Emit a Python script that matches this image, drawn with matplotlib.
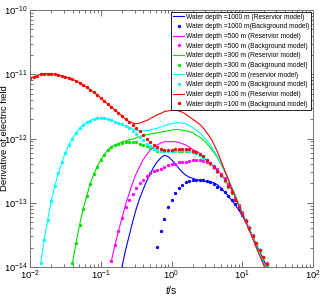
import numpy as np
import matplotlib
matplotlib.use("Agg")
import matplotlib.pyplot as plt

plt.rcParams["font.family"] = ["Liberation Sans", "DejaVu Sans"]
plt.rcParams["mathtext.fontset"] = "custom"
plt.rcParams["mathtext.rm"] = "Liberation Sans"
plt.rcParams["mathtext.it"] = "Liberation Sans:italic"

# time samples (log10 t, s), 20 per decade
log_t = np.round(np.arange(69) * 0.05 - 2.0, 2)

# log10 of derivative; each list starts at log_t index given
b100_start = 0
b100 = [-11.06, -11.04, -11.02, -11.00, -10.99, -10.99, -10.99, -11.00, -11.01, -11.03,
        -11.04, -11.06, -11.08, -11.10, -11.13, -11.17, -11.20, -11.24, -11.28, -11.32,
        -11.37, -11.42, -11.46, -11.51, -11.56, -11.60, -11.65, -11.70, -11.74, -11.79,
        -11.84, -11.88, -11.95, -12.01, -12.06, -12.10, -12.14, -12.16, -12.18, -12.18,
        -12.18, -12.17, -12.16, -12.16, -12.16, -12.17, -12.19, -12.21, -12.24, -12.28,
        -12.33, -12.38, -12.44, -12.50, -12.57, -12.65, -12.74, -12.84, -12.95, -13.06,
        -13.17, -13.28, -13.40, -13.51, -13.63, -13.74, -13.85, -13.96, -14.06]
r100 = b100[:29] + [
        -11.76, -11.77, -11.76, -11.74, -11.72, -11.69, -11.66, -11.63, -11.61, -11.58, -11.57,
        -11.56, -11.56, -11.57, -11.59, -11.62, -11.66, -11.70, -11.74, -11.78, -11.84,
        -11.91, -11.99, -12.09, -12.21, -12.35, -12.49, -12.63, -12.77, -12.90, -13.04,
        -13.17, -13.30, -13.43, -13.56, -13.70, -13.83, -13.96, -14.09]

b200_start = 3
b200 = [-13.94, -13.58, -13.27, -12.97, -12.74, -12.54, -12.37,
        -12.22, -12.10, -12.00, -11.91, -11.84, -11.79, -11.75, -11.72, -11.70, -11.68,
        -11.68, -11.68, -11.70, -11.71, -11.74, -11.76, -11.78, -11.81, -11.84, -11.88,
        -11.93, -11.98, -12.03, -12.09, -12.12, -12.16, -12.18, -12.19, -12.20, -12.20,
        -12.19, -12.19, -12.18, -12.18, -12.18, -12.19, -12.20, -12.23, -12.26, -12.30,
        -12.34, -12.40, -12.46, -12.52, -12.58, -12.65, -12.74, -12.84, -12.95, -13.06,
        -13.17, -13.28, -13.40, -13.51, -13.63, -13.74, -13.85, -13.96, -14.06]
r200 = b200[:25] + [
        -11.82, -11.85, -11.87, -11.88, -11.88, -11.88, -11.87, -11.85, -11.84, -11.82, -11.80, -11.78,
        -11.77, -11.76, -11.75, -11.76, -11.77, -11.80, -11.83, -11.87, -11.91, -11.97,
        -12.03, -12.10, -12.19, -12.28, -12.38, -12.50, -12.62, -12.75, -12.88, -13.02,
        -13.15, -13.28, -13.41, -13.54, -13.68, -13.81, -13.94, -14.07]

b300_start = 12
b300 = [-13.94, -13.63, -13.35, -13.10, -12.90, -12.71, -12.56, -12.44,
        -12.33, -12.25, -12.18, -12.13, -12.10, -12.09, -12.07, -12.06, -12.05, -12.05,
        -12.06, -12.08, -12.10, -12.12, -12.15, -12.17, -12.19, -12.19, -12.20, -12.20,
        -12.20, -12.19, -12.19, -12.19, -12.19, -12.20, -12.21, -12.23, -12.26, -12.30,
        -12.34, -12.40, -12.46, -12.52, -12.59, -12.66, -12.75, -12.85, -12.96, -13.07,
        -13.18, -13.29, -13.41, -13.52, -13.64, -13.75, -13.86, -13.97, -14.07]
r300 = b300[:13] + [
        -12.08, -12.05, -12.04, -12.02, -12.01,
        -11.99, -11.97, -11.95, -11.94, -11.93, -11.92, -11.91, -11.90, -11.89, -11.88,
        -11.87, -11.86, -11.86, -11.87, -11.88, -11.89, -11.91, -11.95, -11.98, -12.02,
        -12.08, -12.14, -12.22, -12.30, -12.40, -12.51, -12.63, -12.76, -12.89, -13.02,
        -13.15, -13.28, -13.41, -13.54, -13.67, -13.80, -13.93, -14.06]

b500_start = 23
b500 = [-13.91, -13.66, -13.44, -13.24, -13.07, -12.95, -12.86,
        -12.77, -12.70, -12.64, -12.58, -12.54, -12.51, -12.49, -12.47, -12.44, -12.42,
        -12.40, -12.39, -12.37, -12.37, -12.36, -12.35, -12.34, -12.34, -12.34, -12.35,
        -12.37, -12.39, -12.43, -12.48, -12.55, -12.62, -12.71, -12.82, -12.93, -13.04,
        -13.15, -13.27, -13.38, -13.50, -13.62, -13.73, -13.84, -13.94, -14.04]
r500 = b500[:4] + [
        -13.03, -12.86, -12.69,
        -12.55, -12.44, -12.33, -12.25, -12.18, -12.13, -12.10, -12.07, -12.05, -12.05,
        -12.05, -12.05, -12.06, -12.08, -12.10, -12.13, -12.17, -12.20, -12.23, -12.29,
        -12.34, -12.39, -12.44, -12.49, -12.55, -12.63, -12.72, -12.80, -12.91, -13.04,
        -13.16, -13.29, -13.42, -13.55, -13.69, -13.82, -13.95, -14.08]

b1000_start = 36
b1000 = [-13.69, -13.44, -13.25, -13.07,
         -12.95, -12.85, -12.77, -12.72, -12.68, -12.66, -12.65, -12.64, -12.64, -12.65,
         -12.66, -12.68, -12.71, -12.75, -12.79, -12.84, -12.89, -12.95, -13.02, -13.10,
         -13.19, -13.29, -13.40, -13.51, -13.63, -13.74, -13.85, -13.95, -14.04]
r1000_start = 26
r1000 = [-14.00, -13.74, -13.52, -13.30,
         -13.10, -12.93, -12.79, -12.66, -12.55, -12.44, -12.36, -12.30, -12.26, -12.28,
         -12.33, -12.39, -12.46, -12.52, -12.57, -12.60, -12.62, -12.64, -12.65, -12.66,
         -12.67, -12.68, -12.69, -12.72, -12.77, -12.83, -12.89, -12.96, -13.03, -13.11,
         -13.20, -13.30, -13.41, -13.53, -13.65, -13.77, -13.89, -14.00, -14.11]

colors = ["#0000ff", "#ff00ff", "#00e000", "#00ffff", "#ff0000"]
res_labels = ["Water depth =1000 m (Reservior model)", "Water depth =500 m (Reservior model)",
              "Water depth =300 m (Reservior model)", "Water depth =200 m (reservior model)",
              "Water depth =100 m (Reservior model)"]
bg_labels = ["Water depth =1000 m(Background model)", "Water depth =500 m (Background model)",
             "Water depth =300 m (Background model)", "Water depth =200 m (Background model)",
             "Water depth =100 m (Background model)"]
res = [(r1000_start, r1000), (b500_start, r500), (b300_start, r300), (b200_start, r200), (b100_start, r100)]
bg = [(b1000_start, b1000), (b500_start, b500), (b300_start, b300), (b200_start, b200), (b100_start, b100)]


def xy(start, vals):
    t = 10 ** log_t[start:start + len(vals)]
    return t, 10 ** np.array(vals)


fig = plt.figure(figsize=(3.21, 2.97), dpi=100)
ax = fig.add_axes([30 / 321, 1 - 267 / 297, 283 / 321, 257 / 297])

for i in range(5):
    ax.plot(*xy(*res[i]), "-", color=colors[i], lw=0.8, label=res_labels[i])
    ax.plot(*xy(*bg[i]), "o", color=colors[i], ms=2.4, mew=0, ls="none", label=bg_labels[i])

ax.set_xscale("log")
ax.set_yscale("log")
ax.set_xlim(1e-2, 1e2)
ax.set_ylim(1e-14, 1e-10)
ax.set_xlabel("$t$/s", fontsize=7.5, va="center")
ax.set_ylabel("Derivative of electric field", fontsize=6.8, va="center")
ax.xaxis.set_label_coords(0.5, -23 / 257)
ax.yaxis.set_label_coords(-25.5 / 283, 0.5)
ax.tick_params(which="both", direction="in", top=True, right=True, colors="0.35",
               labelcolor="black", labelsize=6.8, width=0.6, pad=1.5)
ax.tick_params(which="major", length=4)
ax.tick_params(which="minor", length=2)
for s in ax.spines.values():
    s.set_color("0.45")
    s.set_linewidth(0.7)

leg = ax.legend(loc="upper right", bbox_to_anchor=(1.0, 1.0), borderaxespad=0.25,
                fontsize=4.8, labelspacing=0.4, handlelength=1.6, handletextpad=0.3,
                borderpad=0.3, fancybox=False, framealpha=1, edgecolor="black", numpoints=1)
leg.get_frame().set_linewidth(0.6)

fig.savefig("out.png", dpi=100)
